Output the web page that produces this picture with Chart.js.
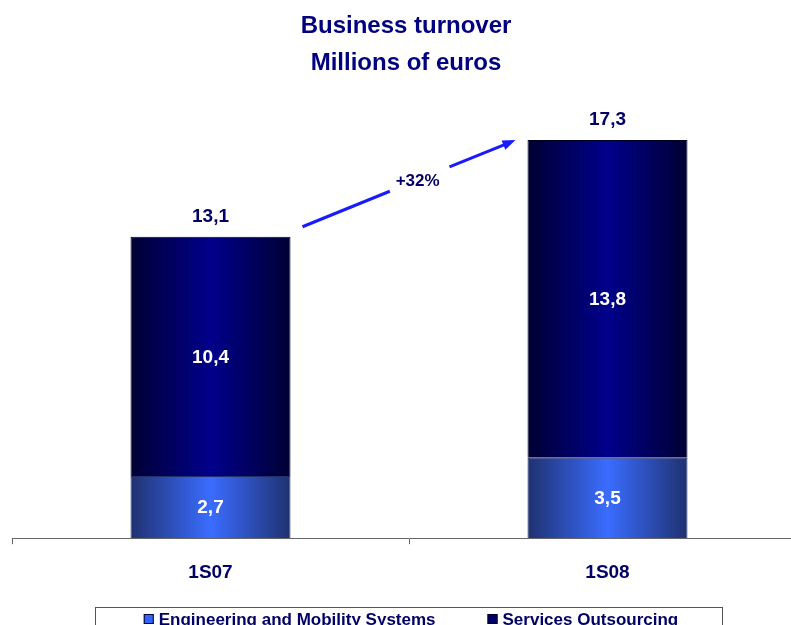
<!DOCTYPE html>
<html>
<head>
<meta charset="utf-8">
<title>Business turnover</title>
<script src="https://cdn.jsdelivr.net/npm/chart.js@4.4.0/dist/chart.umd.min.js"></script>
<style>
  html, body { margin: 0; padding: 0; background: #fff; overflow: hidden; }
  #wrap { width: 820px; height: 625px; }
</style>
</head>
<body>
<div id="wrap"><canvas id="turnover" width="820" height="625"></canvas></div>
<script>
// half-year periods and turnover split (millions of euros)
const periods = ['1S07', '1S08'];
const engineering = [2.7, 3.5];
const outsourcing = [10.4, 13.8];
const seriesNames = ['Engineering and Mobility Systems', 'Services Outsourcing'];
const titleLines = ['Business turnover', 'Millions of euros'];

const FONT = '"Liberation Sans", Arial, sans-serif';
const NAVY = '#000080';
const BAR_PCT = 0.403;

const fmt = v => v.toFixed(1).replace('.', ',');

// horizontal "cylinder" shading across each bar
function shade(edge, mid) {
  return function (ctx) {
    const chart = ctx.chart;
    const area = chart.chartArea;
    if (!area) return mid;
    const x = chart.scales.x;
    const c = x.getPixelForValue(ctx.dataIndex);
    const w = (area.width / periods.length) * BAR_PCT;
    const g = chart.ctx.createLinearGradient(c - w / 2, 0, c + w / 2, 0);
    g.addColorStop(0, edge);
    g.addColorStop(0.5, mid);
    g.addColorStop(1, edge);
    return g;
  };
}

const labelsPlugin = {
  id: 'barLabels',
  afterDatasetsDraw(chart) {
    const ctx = chart.ctx;
    ctx.save();
    ctx.textAlign = 'center';
    ctx.textBaseline = 'middle';
    ctx.font = 'bold 19px ' + FONT;
    ctx.fillStyle = '#ffffff';
    chart.data.datasets.forEach((ds, i) => {
      chart.getDatasetMeta(i).data.forEach((el, j) => {
        ctx.fillText(fmt(ds.data[j]), el.x, (el.y + el.base) / 2 + 1);
      });
    });
    // totals on top of the stacks
    const top = chart.getDatasetMeta(chart.data.datasets.length - 1).data;
    const totals = periods.map((p, j) => engineering[j] + outsourcing[j]);
    ctx.fillStyle = '#000066';
    top.forEach((el, j) => {
      ctx.fillText(fmt(totals[j]), el.x, el.y - 20);
    });

    // growth arrow between the two totals
    const a = top[0], b = top[1];
    const x0 = a.x + a.width / 2 + 12, y0 = a.y - 10;
    const x1 = b.x - b.width / 2 - 12, y1 = b.y;
    const growth = Math.round((totals[1] / totals[0] - 1) * 100);
    const lerp = t => [x0 + (x1 - x0) * t, y0 + (y1 - y0) * t];
    const ang = Math.atan2(y1 - y0, x1 - x0);
    const head = 13;
    ctx.strokeStyle = '#1a1aff';
    ctx.fillStyle = '#1a1aff';
    ctx.lineWidth = 3;
    ctx.lineCap = 'butt';
    let p = lerp(0.41);
    ctx.beginPath();
    ctx.moveTo(x0, y0);
    ctx.lineTo(p[0], p[1]);
    ctx.stroke();
    p = lerp(0.69);
    ctx.beginPath();
    ctx.moveTo(p[0], p[1]);
    ctx.lineTo(x1 - Math.cos(ang) * head * 0.8, y1 - Math.sin(ang) * head * 0.8);
    ctx.stroke();
    ctx.beginPath();
    ctx.moveTo(x1, y1);
    ctx.lineTo(x1 - Math.cos(ang) * head + Math.sin(ang) * 5, y1 - Math.sin(ang) * head - Math.cos(ang) * 5);
    ctx.lineTo(x1 - Math.cos(ang) * head - Math.sin(ang) * 5, y1 - Math.sin(ang) * head + Math.cos(ang) * 5);
    ctx.closePath();
    ctx.fill();
    const m = lerp(0.55);
    ctx.font = 'bold 17px ' + FONT;
    ctx.fillStyle = '#000066';
    ctx.fillText('+' + growth + '%', m[0] - 2, m[1] + 2);
    ctx.restore();
  }
};

const titleAndLegend = {
  id: 'titleAndLegend',
  afterDraw(chart) {
    const ctx = chart.ctx;
    const area = chart.chartArea;
    ctx.save();
    ctx.fillStyle = NAVY;
    ctx.textAlign = 'center';
    ctx.textBaseline = 'middle';
    ctx.font = 'bold 24px ' + FONT;
    const cx = (area.left + area.right) / 2 - 3;
    titleLines.forEach((t, i) => ctx.fillText(t, cx, 26 + i * 37));

    // legend frame along the bottom
    ctx.strokeStyle = '#555';
    ctx.lineWidth = 1;
    ctx.strokeRect(95.5, 607.5, 627, 40);
    ctx.font = 'bold 17px ' + FONT;
    ctx.textAlign = 'left';
    const gap = 52, box = 10;
    const widths = seriesNames.map(s => ctx.measureText(s).width);
    const total = widths.reduce((s, w) => s + w + box + 5, 0) + gap;
    let x = 411 - total / 2;
    const swatch = ['#3366ff', '#000066'];
    seriesNames.forEach((s, i) => {
      ctx.fillStyle = swatch[i];
      ctx.fillRect(x, 614, box, box);
      ctx.strokeStyle = '#000033';
      ctx.strokeRect(x + 0.5, 614.5, box - 1, box - 1);
      ctx.fillStyle = '#000066';
      ctx.fillText(s, x + box + 5, 620);
      x += box + 5 + widths[i] + gap;
    });
    ctx.restore();
  }
};

new Chart(document.getElementById('turnover'), {
  type: 'bar',
  data: {
    labels: periods,
    datasets: [
      {
        label: seriesNames[0],
        data: engineering,
        backgroundColor: shade('#1f3170', '#3a6cff'),
        borderColor: '#22306a',
        borderWidth: 1,
        barPercentage: BAR_PCT,
        categoryPercentage: 1
      },
      {
        label: seriesNames[1],
        data: outsourcing,
        backgroundColor: shade('#000033', '#00008c'),
        borderColor: '#000022',
        borderWidth: 1,
        barPercentage: BAR_PCT,
        categoryPercentage: 1
      }
    ]
  },
  options: {
    responsive: false,
    animation: false,
    layout: { padding: { top: 101, left: 12, right: 14, bottom: 24 } },
    plugins: {
      legend: { display: false },
      title: { display: false },
      tooltip: { enabled: false }
    },
    scales: {
      x: {
        stacked: true,
        grid: { drawOnChartArea: false, drawTicks: true, tickLength: 6, color: '#666' },
        border: { display: true, color: '#666', width: 1 },
        ticks: { color: '#000066', padding: 17, font: { family: FONT, size: 19, weight: 'bold' } }
      },
      y: {
        stacked: true,
        display: false,
        min: 0,
        max: 19
      }
    }
  },
  plugins: [labelsPlugin, titleAndLegend]
});
</script>
</body>
</html>
